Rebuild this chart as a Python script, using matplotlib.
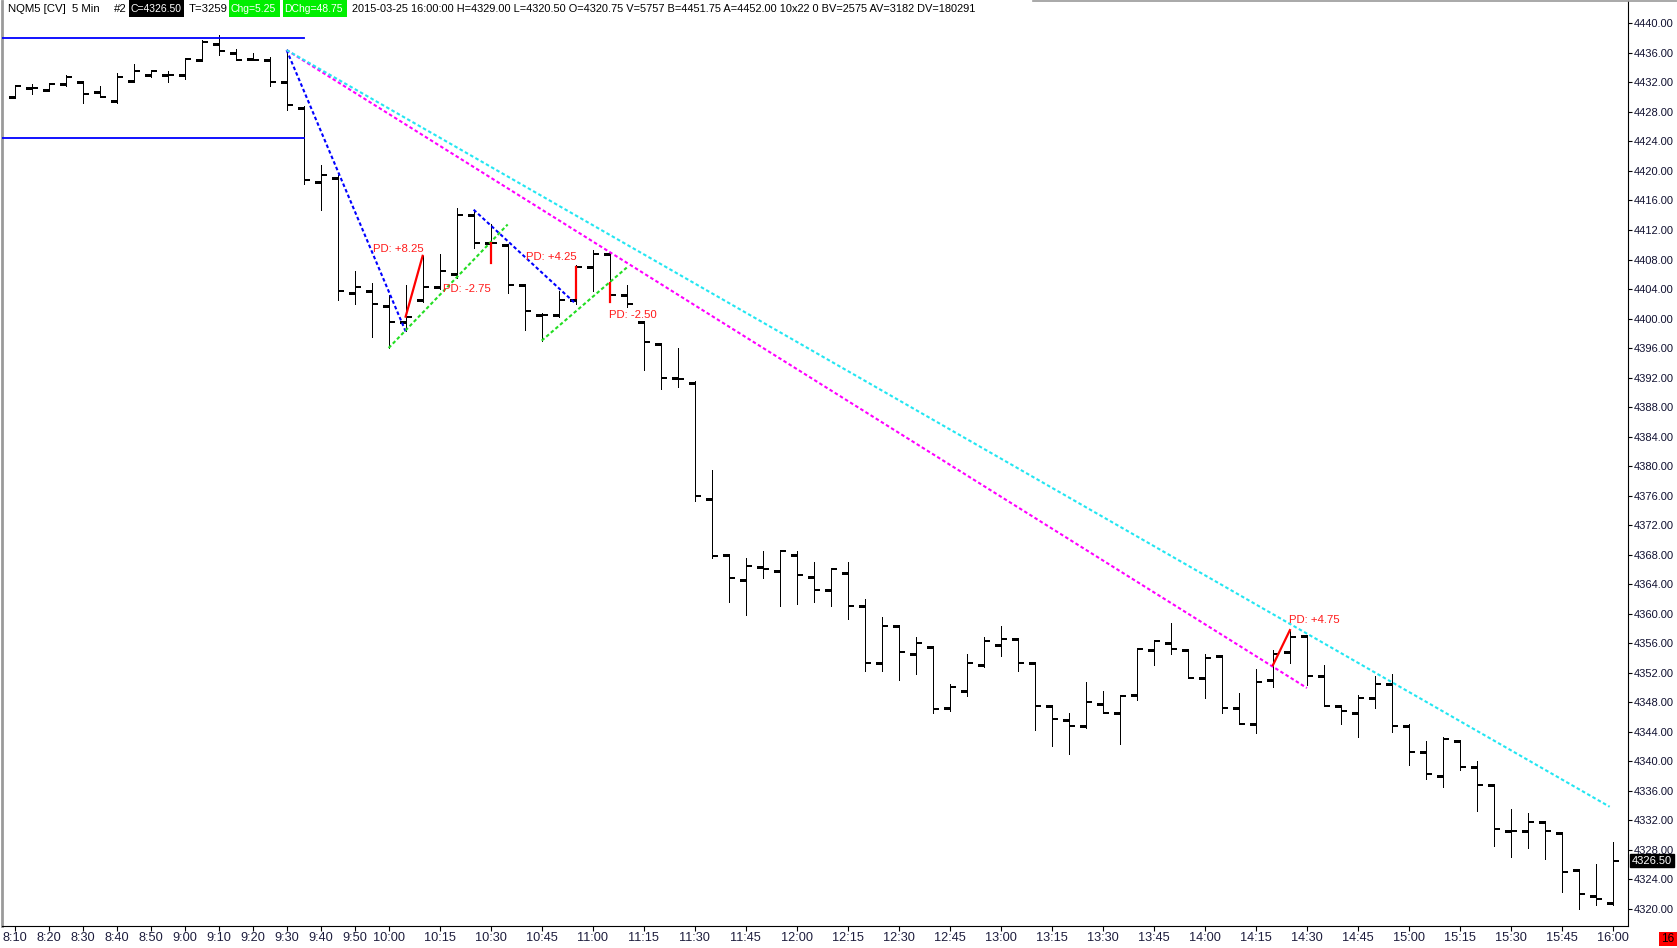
import matplotlib
matplotlib.use("Agg")
import matplotlib.pyplot as plt
from matplotlib.patches import Rectangle
from matplotlib.lines import Line2D


# 5 minute bars, 8:10 .. 16:00
opens = [
    4430.0, 4431.25, 4431.0, 4431.75, 4432.0, 4430.75, 4429.5, 4432.25, 4433.0, 4433.0,
    4433.0, 4435.0, 4437.25, 4436.0, 4435.25, 4435.0, 4432.0, 4428.5, 4418.5, 4419.0,
    4403.5, 4403.75, 4401.75, 4399.5, 4402.5, 4404.25, 4406.0, 4414.0, 4410.25, 4410.0,
    4404.5, 4400.5, 4400.5, 4402.5, 4407.0, 4408.75, 4403.25, 4399.5, 4396.5, 4392.0,
    4391.25, 4375.5, 4368.0, 4364.5, 4366.25, 4365.75, 4368.0, 4365.0, 4363.25, 4365.5,
    4361.0, 4353.25, 4358.25, 4354.5, 4355.5, 4347.25, 4349.5, 4353.0, 4355.75, 4356.5,
    4353.25, 4347.5, 4345.5, 4344.75, 4347.75, 4346.5, 4349.0, 4355.0, 4356.0, 4355.0,
    4351.25, 4354.25, 4347.25, 4345.0, 4351.0, 4354.75, 4357.0, 4351.5, 4347.5, 4346.5,
    4348.5, 4350.5, 4344.75, 4341.25, 4338.0, 4342.75, 4339.25, 4336.75, 4330.5, 4330.5,
    4331.75, 4330.25, 4325.25, 4321.75, 4320.75,
]
highs = [
    4431.5, 4431.75, 4431.75, 4433.0, 4432.0, 4431.5, 4433.25, 4434.5, 4433.5, 4433.5,
    4435.25, 4437.75, 4438.5, 4436.5, 4436.0, 4435.5, 4436.5, 4428.75, 4420.75, 4419.5,
    4406.5, 4404.75, 4403.25, 4404.5, 4408.5, 4408.75, 4415.0, 4414.75, 4412.75, 4410.0,
    4404.5, 4400.75, 4403.75, 4407.25, 4409.25, 4408.75, 4404.5, 4399.5, 4396.5, 4396.0,
    4391.5, 4379.5, 4368.0, 4367.5, 4368.5, 4368.5, 4368.5, 4367.0, 4366.0, 4367.0,
    4362.0, 4359.5, 4358.5, 4356.75, 4355.5, 4350.5, 4354.5, 4356.75, 4358.25, 4356.5,
    4353.25, 4347.5, 4346.5, 4350.75, 4349.5, 4348.75, 4355.25, 4356.25, 4358.75, 4355.0,
    4354.5, 4354.25, 4349.25, 4352.5, 4355.0, 4357.75, 4357.0, 4353.0, 4347.5, 4349.0,
    4351.5, 4351.75, 4345.0, 4342.75, 4343.25, 4342.75, 4340.0, 4336.75, 4333.5, 4333.0,
    4331.75, 4330.25, 4325.25, 4326.0, 4329.0,
]
lows = [
    4430.0, 4430.5, 4431.0, 4431.5, 4429.25, 4430.0, 4429.25, 4432.25, 4432.75, 4432.0,
    4432.5, 4435.0, 4435.75, 4435.0, 4435.0, 4431.5, 4428.25, 4418.25, 4414.75, 4402.5,
    4402.0, 4397.5, 4396.0, 4398.25, 4402.25, 4404.0, 4405.5, 4409.5, 4407.5, 4403.5,
    4398.5, 4397.0, 4400.25, 4402.0, 4403.75, 4402.25, 4401.5, 4393.0, 4390.5, 4390.75,
    4375.25, 4367.5, 4361.5, 4359.75, 4364.75, 4361.0, 4361.25, 4361.5, 4361.0, 4359.25,
    4352.25, 4352.25, 4351.0, 4351.75, 4346.5, 4346.75, 4348.75, 4352.75, 4354.25, 4352.25,
    4344.25, 4342.0, 4341.0, 4344.5, 4346.5, 4342.25, 4348.25, 4353.0, 4354.5, 4351.25,
    4348.5, 4346.5, 4345.0, 4343.75, 4350.0, 4353.25, 4350.25, 4347.5, 4345.0, 4343.25,
    4347.25, 4344.0, 4339.5, 4337.5, 4336.5, 4338.75, 4333.25, 4328.5, 4327.0, 4328.25,
    4326.75, 4322.25, 4320.0, 4320.5, 4320.5,
]
closes = [
    4431.5, 4431.25, 4431.75, 4432.75, 4430.5, 4430.0, 4432.75, 4433.5, 4433.5, 4433.0,
    4435.25, 4437.5, 4436.25, 4435.0, 4435.0, 4432.0, 4429.0, 4418.75, 4419.5, 4403.75,
    4404.25, 4402.0, 4399.5, 4400.25, 4404.25, 4406.5, 4414.0, 4410.25, 4410.25, 4404.5,
    4401.0, 4400.5, 4402.5, 4407.0, 4408.75, 4403.25, 4402.0, 4396.75, 4392.0, 4391.75,
    4376.0, 4367.75, 4364.75, 4366.5, 4366.0, 4368.5, 4365.25, 4363.25, 4366.0, 4361.0,
    4353.25, 4358.25, 4354.75, 4356.0, 4347.0, 4350.0, 4353.25, 4356.25, 4356.5, 4353.25,
    4347.5, 4345.75, 4344.75, 4348.0, 4346.5, 4348.75, 4355.25, 4356.25, 4355.25, 4351.25,
    4354.0, 4347.25, 4345.0, 4350.75, 4354.5, 4356.75, 4351.5, 4347.5, 4346.75, 4348.5,
    4350.5, 4344.75, 4341.25, 4338.25, 4343.0, 4339.25, 4336.75, 4330.75, 4330.5, 4331.75,
    4330.5, 4325.0, 4322.0, 4321.25, 4326.5,
]

tick_labels = [
    "8:10", "8:20", "8:30", "8:40", "8:50", "9:00", "9:10", "9:20", "9:30", "9:40",
    "9:50", "10:00", "10:15", "10:30", "10:45", "11:00", "11:15", "11:30", "11:45",
    "12:00", "12:15", "12:30", "12:45", "13:00", "13:15", "13:30", "13:45", "14:00",
    "14:15", "14:30", "14:45", "15:00", "15:15", "15:30", "15:45", "16:00",
]
price_ticks = [4320 + 4 * k for k in range(31)]
last_price = 4326.50

# drawn studies (bar index, price)
box_levels = [4438.0, 4424.5]
box_end = 17
dashed_lines = [
    (16, 4436.4, 23, 4398.25, "#0000ff"),
    (27, 4414.75, 33, 4402.0, "#0000ff"),
    (22, 4396.0, 29, 4412.75, "#22dd22"),
    (31, 4397.0, 36, 4406.9, "#22dd22"),
    (16, 4436.4, 76, 4349.9, "#ff00ff"),
    (16, 4436.4, 93.8, 4333.8, "#22e6f2"),
]
pd_segments = [
    (23, 4400.25, 24, 4408.5),
    (28, 4410.25, 28, 4407.5),
    (33, 4402.75, 33, 4407.0),
    (35, 4404.75, 35, 4402.25),
    (74, 4353.0, 75, 4357.75),
]
pd_texts = ["PD: +8.25", "PD: -2.75", "PD: +4.25", "PD: -2.50", "PD: +4.75"]
pd_x = [21.06, 25.2, 30.06, 34.94, 74.94]
pd_y = [4409.4, 4404.0, 4408.3, 4400.5, 4359.15]


W, H = 1677, 948
FONT = ["Liberation Sans", "DejaVu Sans"]
NARROW = ["Liberation Sans Narrow", "Liberation Sans", "DejaVu Sans"]

fig = plt.figure(figsize=(W / 100, H / 100), dpi=100)
ax = fig.add_axes([1.5 / W, (H - 926) / H, (1628 - 1.5) / W, (926 - 1) / H])

x = list(range(len(opens)))
w = 6 / 17

ax.vlines(x, lows, highs, color="black", lw=0.72, antialiased=False, zorder=2)
ax.hlines(opens, [i - w for i in x], x, color="black", lw=2.0, antialiased=False, zorder=2)
ax.hlines(closes, x, [i + w for i in x], color="black", lw=1.2, antialiased=False, zorder=2)

# box lines
for lvl in box_levels:
    ax.plot([-1, box_end], [lvl, lvl], color="#0000ff", lw=1.3, zorder=3)

# trend lines
for x0, y0, x1, y1, c in dashed_lines:
    ax.plot([x0, x1], [y0, y1], color=c, lw=1.5,
            linestyle=(0, (1.7, 1.2)), zorder=3)

# price difference marks
for x0, y0, x1, y1 in pd_segments:
    ax.plot([x0, x1], [y0, y1], color="#ff0000", lw=1.6, zorder=4)

for t, tx, ty in zip(pd_texts, pd_x, pd_y):
    ax.text(tx, ty, t, color="#ff1a1a", fontsize=8.2, family=FONT,
            ha="left", va="center", zorder=5)

ax.set_xlim(-0.765, 94.88)
ax.set_ylim(4317.63, 4443.05)

start = 8 * 60 + 10
tick_pos = []
for lab in tick_labels:
    hh, mm = lab.split(":")
    tick_pos.append((int(hh) * 60 + int(mm) - start) / 5)
ax.set_xticks(tick_pos)
ax.set_xticklabels(tick_labels, family=NARROW, fontsize=9.2, color="#1c1c3c")
ax.tick_params(axis="x", length=3.5, width=0.8, pad=1, color="black")

ax.yaxis.tick_right()
ax.set_yticks(price_ticks)
ax.set_yticklabels([f"{v:.2f}" for v in price_ticks], family=FONT,
                   fontsize=8.0, color="#101030")
ax.tick_params(axis="y", length=3, width=0.8, pad=1, color="black")

ax.spines["top"].set_visible(False)
ax.spines["left"].set_color("#9a9a9a")
ax.spines["left"].set_linewidth(2.0)
ax.spines["right"].set_color("black")
ax.spines["right"].set_linewidth(0.8)
ax.spines["bottom"].set_color("black")
ax.spines["bottom"].set_linewidth(0.8)

# last price marker on the axis
ax.text(1.0025, last_price, f"{last_price:.2f}", transform=ax.get_yaxis_transform(),
        color="white", fontsize=8.0, family=FONT, ha="left", va="center",
        bbox=dict(boxstyle="square,pad=0.15", fc="black", ec="black"), zorder=6,
        clip_on=False)


# header line
def px(v):
    return v / W


def py(v):
    return 1 - v / H


header_y = py(8.5)
fig.text(px(8), header_y, "NQM5 [CV]  5 Min", fontsize=8.2, family=FONT, va="center")
fig.text(px(113.6), header_y, "#2", fontsize=8.2, family=FONT, va="center")
boxes = [
    (129.3, 183.9, "C=4326.50", "black"),
    (229.3, 280.4, "Chg=5.25", "#00ee00"),
    (282.9, 347.1, "DChg=48.75", "#00ee00"),
]
for bx0, bx1, t, c in boxes:
    fig.patches.append(Rectangle((px(bx0), py(16.5)), px(bx1 - bx0), 16.5 / H,
                                 transform=fig.transFigure, fc=c, ec="none"))
    fig.text(px(bx0 + 1), header_y, t, fontsize=7.5, family=FONT,
             color="white", va="center")
fig.text(px(188.2), header_y, "T=3259", fontsize=8.2, family=FONT, va="center")
fig.text(px(351.8), header_y,
         "2015-03-25 16:00:00 H=4329.00 L=4320.50 O=4320.75 V=5757 "
         "B=4451.75 A=4452.00 10x22 0 BV=2575 AV=3182 DV=180291",
         fontsize=7.9, family=FONT, va="center")

fig.add_artist(Line2D([px(1033), 1], [py(1), py(1)], transform=fig.transFigure,
                      color="#9a9a9a", lw=1.2))

# red corner box
fig.patches.append(Rectangle((px(1659), py(946)), px(18), 14 / H,
                             transform=fig.transFigure, fc="#ff0000", ec="none"))
fig.text(px(1668), py(939), "16", fontsize=8.5, family=FONT, ha="center", va="center")

fig.savefig("out.png", dpi=100)
